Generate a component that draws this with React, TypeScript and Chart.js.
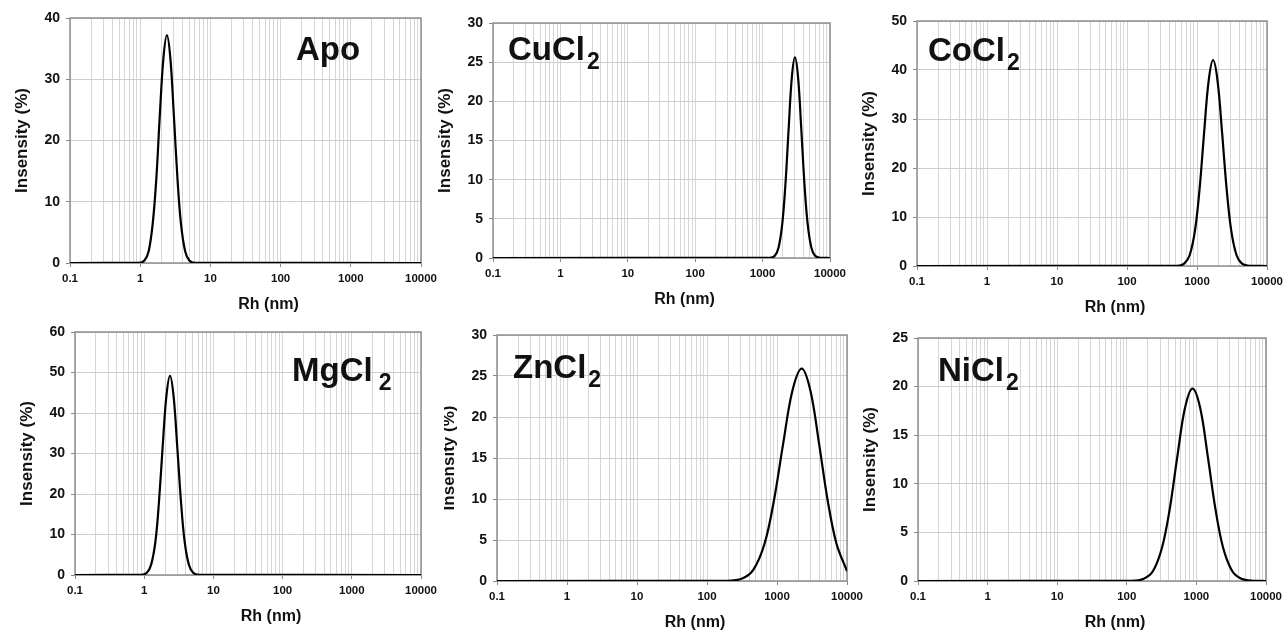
import React, { useEffect, useRef } from 'react';
import { Chart, registerables } from 'chart.js';
Chart.register(...registerables);

const FONT = "'Liberation Sans', Arial, sans-serif";

// Log-axis tick values (grid lines) and labelled decades
const X_TICKS = [
  0.1, 0.2, 0.3, 0.4, 0.5, 0.6, 0.7, 0.8, 0.9,
  1, 2, 3, 4, 5, 6, 7, 8, 9,
  10, 20, 30, 40, 50, 60, 70, 80, 90,
  100, 200, 300, 400, 500, 600, 700, 800, 900,
  1000, 2000, 3000, 4000, 5000, 6000, 7000, 8000, 9000,
  10000,
];
const X_LABELS = [0.1, 1, 10, 100, 1000, 10000];

// Series: Rh (nm) and intensity (%)
const APO_X = [0.1, 0.95, 1.15, 1.32, 1.51, 1.70, 1.90, 2.14, 2.40, 2.69, 3.02, 3.39, 3.80, 4.37, 5.01, 6.03, 10000];
const APO_Y = [0, 0.03, 0.42, 1.9, 6.5, 13.9, 24.0, 33.4, 37.2, 33.4, 24.0, 13.9, 6.5, 1.9, 0.42, 0.03, 0];

const CU_X = [0.1, 1276, 1517, 1726, 1963, 2188, 2435, 2710, 3020, 3365, 3747, 4169, 4645, 5284, 6012, 7145, 10000];
const CU_Y = [0, 0.02, 0.29, 1.34, 4.45, 9.57, 16.5, 23.0, 25.6, 23.0, 16.5, 9.57, 4.45, 1.34, 0.29, 0.02, 0];

const CO_X = [0.1, 518, 656, 785, 938, 1088, 1262, 1464, 1698, 1970, 2286, 2652, 3076, 3673, 4395, 5572, 10000];
const CO_Y = [0, 0.04, 0.48, 2.19, 7.31, 15.7, 27.1, 37.7, 42.0, 37.7, 27.1, 15.7, 7.31, 2.19, 0.48, 0.04, 0];

const MG_X = [0.1, 0.90, 1.09, 1.26, 1.46, 1.64, 1.85, 2.09, 2.36, 2.66, 3.00, 3.39, 3.82, 4.42, 5.11, 6.19, 10000];
const MG_Y = [0, 0.04, 0.56, 2.57, 8.56, 18.4, 31.8, 44.1, 49.2, 44.1, 31.8, 18.4, 8.56, 2.57, 0.56, 0.04, 0];

const ZN_X = [0.1, 195, 318, 458, 662, 899, 1222, 1660, 2254, 3003, 3999, 5327, 7096, 10000];
const ZN_Y = [0, 0.02, 0.30, 1.35, 4.51, 9.69, 16.7, 23.2, 25.9, 23.2, 16.7, 9.69, 4.51, 1.2];

const NI_X = [0.1, 117, 175, 238, 321, 414, 532, 685, 881, 1134, 1459, 1877, 2415, 3266, 4426, 6622, 10000];
const NI_Y = [0, 0.02, 0.23, 1.03, 3.45, 7.41, 12.8, 17.8, 19.8, 17.8, 12.8, 7.41, 3.45, 1.03, 0.23, 0.02, 0];

const Y_TITLE = 'Insensity (%)';
const X_TITLE = 'Rh (nm)';

// Panel layout: plot area [left, top, right, bottom] in page px, label offset from plot top-left
const PANELS = [
  { id: 'apo', main: 'Apo', sub: '', xs: APO_X, ys: APO_Y, yMax: 40, yStep: 10, plot: [70, 18, 421, 263], label: [226, 42], subGap: 2, clipLeft: 0 },
  { id: 'cu', main: 'CuCl', sub: '2', xs: CU_X, ys: CU_Y, yMax: 30, yStep: 5, plot: [493, 23, 830, 258], label: [15, 37], subGap: 2, clipLeft: 0 },
  { id: 'co', main: 'CoCl', sub: '2', xs: CO_X, ys: CO_Y, yMax: 50, yStep: 10, plot: [917, 21, 1267, 266], label: [11, 40], subGap: 2, clipLeft: 0 },
  { id: 'mg', main: 'MgCl', sub: '2', xs: MG_X, ys: MG_Y, yMax: 60, yStep: 10, plot: [75, 332, 421, 575], label: [217, 49], subGap: 6, clipLeft: 0 },
  { id: 'zn', main: 'ZnCl', sub: '2', xs: ZN_X, ys: ZN_Y, yMax: 30, yStep: 5, plot: [497, 335, 847, 581], label: [16, 43], subGap: 2, clipLeft: 17 },
  { id: 'ni', main: 'NiCl', sub: '2', xs: NI_X, ys: NI_Y, yMax: 25, yStep: 5, plot: [918, 338, 1266, 581], label: [20, 43], subGap: 2, clipLeft: 0 },
];

const PAD_L = 70;
const PAD_T = 14;
const PAD_R = 26;
const PAD_B = 56;

function Panel({ p }: { p: any }) {
  const ref = useRef<HTMLCanvasElement>(null);
  const [L, T, R, B] = p.plot;
  const w = R - L + PAD_L + PAD_R;
  const h = B - T + PAD_T + PAD_B;

  useEffect(() => {
    if (!ref.current) return;
    const deco = {
      id: 'deco_' + p.id,
      beforeDatasetsDraw(chart: any) {
        const { ctx, chartArea: a } = chart;
        ctx.save();
        ctx.strokeStyle = '#8e8e8e';
        ctx.lineWidth = 1.5;
        ctx.strokeRect(a.left, a.top, a.right - a.left, a.bottom - a.top);
        ctx.restore();
      },
      afterDraw(chart: any) {
        const { ctx, chartArea: a } = chart;
        ctx.save();
        ctx.fillStyle = '#111';
        ctx.font = `bold 16px ${FONT}`;
        ctx.textAlign = 'center';
        ctx.textBaseline = 'middle';
        ctx.fillText(X_TITLE, (a.left + a.right) / 2 + 23, a.bottom + 42);
        ctx.font = `bold 33px ${FONT}`;
        ctx.textAlign = 'left';
        ctx.textBaseline = 'alphabetic';
        const x0 = a.left + p.label[0];
        const y0 = a.top + p.label[1];
        ctx.fillText(p.main, x0, y0);
        if (p.sub) {
          const mw = ctx.measureText(p.main).width;
          ctx.font = `bold 23px ${FONT}`;
          ctx.fillText(p.sub, x0 + mw + p.subGap, y0 + 9);
        }
        ctx.restore();
      },
    };

    const chart = new Chart(ref.current, {
      type: 'line',
      data: {
        datasets: [
          {
            data: p.xs.map((v: number, i: number) => ({ x: v, y: p.ys[i] })),
            borderColor: '#000',
            borderWidth: 2.2,
            pointRadius: 0,
            tension: 0.35,
            fill: false,
          },
        ],
      },
      options: {
        responsive: false,
        animation: false,
        events: [],
        layout: { padding: { left: 0, top: PAD_T, right: PAD_R, bottom: 0 } },
        plugins: { legend: { display: false }, tooltip: { enabled: false } },
        scales: {
          x: {
            type: 'logarithmic',
            min: 0.1,
            max: 10000,
            afterBuildTicks: (s: any) => {
              s.ticks = X_TICKS.map((v) => ({ value: v }));
            },
            afterFit: (s: any) => {
              s.height = PAD_B;
              s.paddingLeft = 0;
              s.paddingRight = 0;
            },
            grid: {
              color: '#d6d6d6',
              lineWidth: 1,
              drawTicks: true,
              tickLength: 4,
              tickColor: (c: any) => (c.tick && X_LABELS.includes(c.tick.value) ? '#888' : 'rgba(0,0,0,0)'),
            },
            border: { display: false },
            ticks: {
              autoSkip: false,
              maxRotation: 0,
              minRotation: 0,
              padding: 5,
              color: '#111',
              font: { family: FONT, size: 11.5, weight: 'bold' },
              callback: (v: any) => (X_LABELS.includes(v) ? String(v) : ''),
            },
          },
          y: {
            type: 'linear',
            min: 0,
            max: p.yMax,
            ticks: {
              stepSize: p.yStep,
              padding: 6,
              color: '#111',
              font: { family: FONT, size: 14, weight: 'bold' },
            },
            grid: { color: '#cdcdcd', lineWidth: 1, tickLength: 4, tickColor: '#888' },
            border: { display: false },
            title: {
              display: true,
              text: Y_TITLE,
              color: '#111',
              font: { family: FONT, size: 17, weight: 'bold' },
              padding: { top: 12, bottom: 0 },
            },
            afterFit: (s: any) => {
              s.width = PAD_L;
              s.paddingTop = 0;
              s.paddingBottom = 0;
            },
          },
        },
      },
      plugins: [deco],
    } as any);
    return () => chart.destroy();
  }, []);

  return (
    <div
      style={{
        position: 'absolute',
        left: L - PAD_L,
        top: T - PAD_T,
        width: w,
        height: h,
        clipPath: p.clipLeft ? `inset(0 0 0 ${p.clipLeft}px)` : undefined,
      }}
    >
      <canvas ref={ref} width={w} height={h} style={{ width: w, height: h, display: 'block' }} />
    </div>
  );
}

export default function App() {
  return (
    <div style={{ position: 'fixed', left: 0, top: 0, width: 1284, height: 631, background: '#fff', overflow: 'hidden' }}>
      {PANELS.map((p) => (
        <Panel key={p.id} p={p} />
      ))}
    </div>
  );
}
